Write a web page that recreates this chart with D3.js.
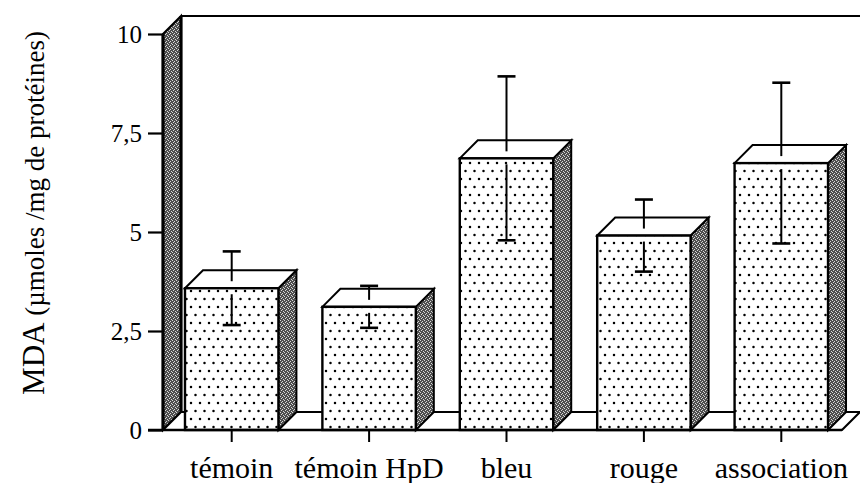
<!DOCTYPE html>
<html>
<head>
<meta charset="utf-8">
<script src="https://cdn.jsdelivr.net/npm/d3@7/dist/d3.min.js"></script>
<style>
  html, body { margin: 0; padding: 0; background: #fff; }
  svg { display: block; }
  text { font-family: "Liberation Serif", "Times New Roman", Times, serif; fill: #000; }
</style>
</head>
<body>
<svg id="chart" width="860" height="483"></svg>
<script>
// MDA par condition (moyenne ± écart-type)
const categories = ["témoin", "témoin HpD", "bleu", "rouge", "association"];
const means = [3.58, 3.11, 6.86, 4.91, 6.74];
const errors = [0.93, 0.53, 2.07, 0.91, 2.03];
const yTicks = [0, 2.5, 5, 7.5, 10];
const yTickLabels = ["0", "2,5", "5", "7,5", "10"];
const yTitleMain = "MDA";
const yTitleUnit = " (µmoles /mg de protéines)";

const svg = d3.select("#chart");
const W = 860;

// 3D depth offset of the walls, floor and bars
const DX = 18, DY = 18;

const y = d3.scaleLinear().domain([0, 10]).range([430, 34]);
const x = d3.scaleBand().domain(categories)
  .range([163, 850]).paddingInner(0.32).paddingOuter(0.16);
const bw = x.bandwidth();

// fill patterns: speckled dark grey for side faces, dots for fronts
const defs = svg.append("defs");
const dither = defs.append("pattern").attr("id", "dither")
  .attr("patternUnits", "userSpaceOnUse").attr("width", 4).attr("height", 4);
dither.append("rect").attr("width", 4).attr("height", 4).attr("fill", "#4e4e4e");
[[0, 0], [2, 1], [1, 2], [3, 3]].forEach(([px, py]) =>
  dither.append("rect").attr("x", px).attr("y", py).attr("width", 1).attr("height", 1)
    .attr("fill", "#d8d8d8"));

const dots = defs.append("pattern").attr("id", "dots")
  .attr("patternUnits", "userSpaceOnUse").attr("width", 9).attr("height", 16);
dots.append("rect").attr("width", 9).attr("height", 16).attr("fill", "#fff");
dots.append("circle").attr("cx", 2).attr("cy", 3).attr("r", 1.25).attr("fill", "#000");
dots.append("circle").attr("cx", 6.5).attr("cy", 11).attr("r", 1.25).attr("fill", "#000");

const line = d3.line();
const x0 = x.range()[0];
const y0 = y(0), yTop = y(10);

// left wall
svg.append("path")
  .attr("d", line([[x0, yTop], [x0 + DX, yTop - DY], [x0 + DX, y0 - DY], [x0, y0]]) + "Z")
  .attr("fill", "url(#dither)").attr("stroke", "#000").attr("stroke-width", 2)
  .attr("stroke-linejoin", "miter");
svg.append("line").attr("x1", x0).attr("x2", x0).attr("y1", yTop).attr("y2", y0)
  .attr("stroke", "#000").attr("stroke-width", 3.2);
svg.append("line").attr("x1", x0 + DX).attr("x2", x0 + DX).attr("y1", yTop - DY).attr("y2", y0 - DY)
  .attr("stroke", "#000").attr("stroke-width", 3.2);

// back wall top edge
svg.append("line").attr("x1", x0 + DX).attr("x2", W).attr("y1", yTop - DY).attr("y2", yTop - DY)
  .attr("stroke", "#000").attr("stroke-width", 2.2);

// floor
const floorRight = 842;
svg.append("path")
  .attr("d", line([[x0, y0], [x0 + DX, y0 - DY], [W + 2, y0 - DY], [floorRight + DX, y0 - DY], [floorRight, y0]]) + "Z")
  .attr("fill", "#fff").attr("stroke", "#000").attr("stroke-width", 2.2);

// bars
const bars = svg.append("g").selectAll("g").data(categories).join("g");
bars.each(function(c, i) {
  const g = d3.select(this);
  const xl = x(c), xr = x(c) + bw, yv = y(means[i]);
  g.append("path")
    .attr("d", line([[xr, yv], [xr + DX, yv - DY], [xr + DX, y0 - DY], [xr, y0]]) + "Z")
    .attr("fill", "url(#dither)").attr("stroke", "#000").attr("stroke-width", 2);
  g.append("path")
    .attr("d", line([[xl, yv], [xl + DX, yv - DY], [xr + DX, yv - DY], [xr, yv]]) + "Z")
    .attr("fill", "#fff").attr("stroke", "#000").attr("stroke-width", 2);
  g.append("rect")
    .attr("x", xl).attr("y", yv).attr("width", bw).attr("height", y0 - yv)
    .attr("fill", "url(#dots)").attr("stroke", "#000").attr("stroke-width", 2.4);
});

// error bars (stem interrupted at the front top edge)
const err = svg.append("g").attr("stroke", "#000");
categories.forEach((c, i) => {
  const cx = x(c) + bw / 2;
  const yv = y(means[i]), yHi = y(means[i] + errors[i]), yLo = y(means[i] - errors[i]);
  err.append("line").attr("x1", cx).attr("x2", cx).attr("y1", yHi).attr("y2", yv - 7).attr("stroke-width", 2);
  err.append("line").attr("x1", cx - 9).attr("x2", cx + 9).attr("y1", yHi).attr("y2", yHi).attr("stroke-width", 2.6);
  err.append("line").attr("x1", cx).attr("x2", cx).attr("y1", yv + 6).attr("y2", yLo).attr("stroke-width", 2);
  err.append("line").attr("x1", cx - 9).attr("x2", cx + 9).attr("y1", yLo).attr("y2", yLo).attr("stroke-width", 2.6);
});

// y axis
const yAxis = d3.axisLeft(y).tickValues(yTicks)
  .tickFormat((d, i) => yTickLabels[i]).tickSize(15).tickPadding(6);
const ya = svg.append("g").attr("transform", `translate(${x0},0)`).call(yAxis);
ya.select(".domain").remove();
ya.selectAll(".tick line").attr("stroke", "#000").attr("stroke-width", 2.2);
ya.selectAll(".tick text").style("font-size", "25px")
  .style("font-family", "'Liberation Serif', 'Times New Roman', serif");

// front floor edge
svg.append("line").attr("x1", x0 - 15).attr("x2", floorRight).attr("y1", y0).attr("y2", y0)
  .attr("stroke", "#000").attr("stroke-width", 2.4);

// x axis
const xAxis = d3.axisBottom(x).tickSize(12).tickPadding(15);
const xa = svg.append("g").attr("transform", `translate(0,${y0})`).call(xAxis);
xa.select(".domain").remove();
xa.selectAll(".tick line").attr("stroke", "#000").attr("stroke-width", 2);
xa.selectAll(".tick text").style("font-size", "30px")
  .style("font-family", "'Liberation Serif', 'Times New Roman', serif");

// y title
const title = svg.append("text")
  .attr("transform", "translate(44,213) rotate(-90)")
  .attr("text-anchor", "middle");
title.append("tspan").style("font-size", "31px").text(yTitleMain);
title.append("tspan").style("font-size", "27px").text(yTitleUnit);
</script>
</body>
</html>
